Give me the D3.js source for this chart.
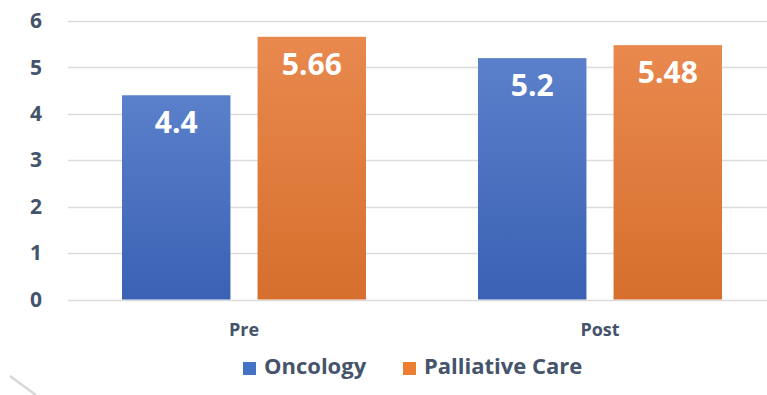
<!DOCTYPE html>
<html>
<head>
<meta charset="utf-8">
<script src="https://cdn.jsdelivr.net/npm/d3@7"></script>
<style>
  html, body { margin: 0; padding: 0; background: #ffffff; }
  svg { display: block; font-family: "Open Sans", sans-serif; }
</style>
</head>
<body>
<svg id="chart" width="767" height="395"></svg>
<script>
// Survey scores before and after, by team
const categories = ["Pre", "Post"];
const seriesNames = ["Oncology", "Palliative Care"];
const oncology = [4.4, 5.2];
const palliative = [5.66, 5.48];
const yTicks = [0, 1, 2, 3, 4, 5, 6];

const seriesValues = [oncology, palliative];
const rows = categories.map((c, i) => ({
  category: c,
  values: seriesNames.map((s, j) => ({ series: s, value: seriesValues[j][i] }))
}));

const textColor = "#44546a";
const svg = d3.select("#chart");

const y = d3.scaleLinear().domain([0, 6]).range([299.5, 21]);
const x0 = d3.scaleBand().domain(categories).range([66, 778]).padding(0);
const x1 = d3.scaleBand().domain(seriesNames).range([56, 300]).paddingInner(0.2);

// Vertical gradients for each series
const defs = svg.append("defs");
const gradStops = {
  "Oncology": ["#5b80cb", "#3a61b3"],
  "Palliative Care": ["#e9894e", "#d66f2d"]
};
const gradId = s => "grad-" + s.replace(/\s+/g, "-");
seriesNames.forEach(s => {
  const g = defs.append("linearGradient").attr("id", gradId(s))
    .attr("x1", 0).attr("y1", 0).attr("x2", 0).attr("y2", 1);
  g.append("stop").attr("offset", "0%").attr("stop-color", gradStops[s][0]);
  g.append("stop").attr("offset", "100%").attr("stop-color", gradStops[s][1]);
});
const legendColor = { "Oncology": "#4472c4", "Palliative Care": "#ed7d31" };

// Horizontal gridlines
svg.append("g")
  .selectAll("line")
  .data(yTicks)
  .join("line")
  .attr("x1", 68).attr("x2", 767)
  .attr("y1", d => Math.round(y(d)) + 0.5).attr("y2", d => Math.round(y(d)) + 0.5)
  .attr("stroke", "#dcdcdc").attr("stroke-width", 1.5);

// Y axis labels
const yAxis = d3.axisLeft(y).tickValues(yTicks).tickFormat(d3.format("d")).tickSize(0).tickPadding(0);
const yg = svg.append("g").attr("transform", "translate(36,0)").call(yAxis);
yg.select(".domain").remove();
yg.selectAll("text")
  .attr("text-anchor", "middle")
  .attr("fill", textColor)
  .style("font-family", "'Open Sans', sans-serif")
  .style("font-size", "21px")
  .style("font-weight", "700");

// Bars
const groups = svg.append("g")
  .selectAll("g")
  .data(rows)
  .join("g")
  .attr("transform", d => `translate(${x0(d.category)},0)`);

groups.selectAll("rect")
  .data(d => d.values)
  .join("rect")
  .attr("x", d => x1(d.series))
  .attr("width", x1.bandwidth())
  .attr("y", d => y(d.value))
  .attr("height", d => y(0) - y(d.value))
  .attr("fill", d => `url(#${gradId(d.series)})`);

// Value labels inside the bars
groups.selectAll("text.value")
  .data(d => d.values)
  .join("text")
  .attr("class", "value")
  .attr("x", d => x1(d.series) + x1.bandwidth() / 2)
  .attr("y", d => y(d.value) + 38)
  .attr("text-anchor", "middle")
  .attr("fill", "#ffffff")
  .style("font-size", "30px")
  .style("font-weight", "700")
  .text(d => d.value);

// Category axis labels
const xAxis = d3.axisBottom(x0).tickSize(0).tickPadding(0);
const xg = svg.append("g").attr("transform", "translate(0,322)").call(xAxis);
xg.select(".domain").remove();
xg.selectAll("text")
  .attr("fill", textColor)
  .attr("dy", "0.75em")
  .style("font-family", "'Open Sans', sans-serif")
  .style("font-size", "18px")
  .style("font-weight", "700");

// Legend
const legendItems = [
  { name: "Oncology", x: 243 },
  { name: "Palliative Care", x: 403 }
];
const legend = svg.append("g")
  .selectAll("g")
  .data(legendItems)
  .join("g")
  .attr("transform", d => `translate(${d.x},0)`);
legend.append("rect")
  .attr("x", 0).attr("y", 362)
  .attr("width", 13).attr("height", 13)
  .attr("fill", d => legendColor[d.name]);
legend.append("text")
  .attr("x", 21).attr("y", 374)
  .attr("fill", textColor)
  .style("font-size", "22px")
  .style("font-weight", "700")
  .text(d => d.name);

// Faint corner arc at the lower left
svg.append("path")
  .attr("d", "M10,376 Q22,385 36,395")
  .attr("fill", "none")
  .attr("stroke", "#d8d8d8")
  .attr("stroke-width", 2.5);
</script>
</body>
</html>
